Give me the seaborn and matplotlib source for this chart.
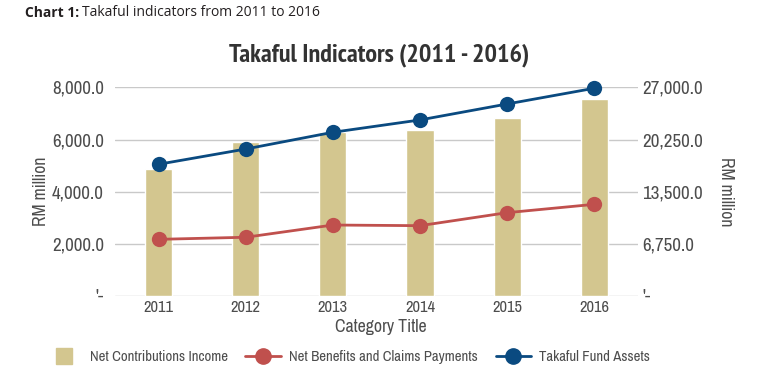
import matplotlib
matplotlib.use('Agg')
import matplotlib.pyplot as plt
from matplotlib import font_manager as fm
from matplotlib.lines import Line2D
from matplotlib.ticker import FuncFormatter, FixedLocator
import numpy as np
import seaborn as sns

# values (RM million)
years = ['2011', '2012', '2013', '2014', '2015', '2016']
net_contributions = [4870, 5915, 6290, 6365, 6815, 7555]
net_benefits = [2165, 2245, 2715, 2690, 3190, 3510]
fund_assets = [17040, 19020, 21190, 22790, 24860, 26900]

left_ticks = [0, 2000, 4000, 6000, 8000]
right_ticks = [0, 6750, 13500, 20250, 27000]

BAR = '#D3C68F'
RED = '#C0504D'
BLUE = '#0A4A80'
TXT = '#4d4d4d'
GRID = '#c9c9c9'

# pick the closest thing to a condensed grotesque that is installed
def stretch_num(st):
    if isinstance(st, int):
        return st
    return fm.stretch_dict.get(st, 500)

def weight_num(w):
    if isinstance(w, int):
        return w
    return fm.weight_dict.get(w, 400)

cands = []
for f in fm.fontManager.ttflist:
    n = stretch_num(f.stretch)
    if 'Narrow' in f.name or 'Condensed' in f.name or n < 500:
        pref = 0 if 'Narrow' in f.name else 1
        cands.append((pref, abs(n - 300), f.name, f.stretch, weight_num(f.weight),
                      f.style, f.fname))
cands.sort()

sns.set_theme(style='white')
title_font = dict(family=['Roboto', 'DejaVu Sans'], fontweight='bold')
if cands:
    plt.rcParams['font.family'] = [cands[0][2], 'DejaVu Sans']
    plt.rcParams['font.stretch'] = cands[0][3]
    bold = [c for c in cands if c[4] >= 600 and c[5] == 'normal']
    if bold:
        title_font = dict(fontproperties=fm.FontProperties(fname=bold[0][6]))
else:
    plt.rcParams['font.family'] = ['Roboto', 'DejaVu Sans']

fig = plt.figure(figsize=(7.6, 3.74), dpi=100)
renderer = fig.canvas.get_renderer()

def fit(text, px, **kw):
    # font size that gives the text the pixel width seen in the reference
    t = fig.text(0, 0, text, **kw)
    t.set_fontsize(10)
    w = t.get_window_extent(renderer).width
    t.remove()
    return 10 * px / w

HDR = ['Open Sans', 'DejaVu Sans']
k = 1.07
sz = dict(
    tick=fit('8,000.0', 48) * k,
    year=fit('2011', 28) * k,
    xlab=fit('Category Title', 86) * k,
    ylab=fit('RM million', 65) * k,
    leg=fit('Net Contributions Income', 139),
    title=fit('Takaful Indicators (2011 - 2016)', 302, **title_font),
    hdr=fit('Chart 1: Takaful indicators from 2011 to 2016', 292,
            family=HDR, stretch='normal'),
)

ax = fig.add_axes([0.1513, 0.2094, 0.688, 0.5567])

def fmt(v, pos):
    if v == 0:
        return "'-"
    return f'{v:,.1f}'

sns.barplot(x=years, y=net_contributions, ax=ax, color=BAR, width=0.31,
            saturation=1, zorder=2)
xpos = np.arange(len(years))
sns.lineplot(x=xpos, y=net_benefits, ax=ax, color=RED, lw=2, marker='o',
             markersize=11, markeredgewidth=0, zorder=3)
ax.set_xlim(-0.5, 5.5)
ax.set_ylim(0, 8000)
ax.yaxis.set_major_locator(FixedLocator(left_ticks))
ax.yaxis.set_major_formatter(FuncFormatter(fmt))
ax.grid(axis='y', color=GRID, lw=1, zorder=0)
ax.set_axisbelow(True)
for s in ax.spines.values():
    s.set_visible(False)
ax.tick_params(axis='both', length=0, colors=TXT)
ax.tick_params(axis='y', pad=8, labelsize=sz['tick'])
ax.tick_params(axis='x', pad=3, labelsize=sz['year'])
ax.set_ylabel('RM million', fontsize=sz['ylab'], color=TXT, va='center')
ax.yaxis.set_label_coords(-0.142, 0.5)
ax.set_xlabel('Category Title', fontsize=sz['xlab'], color=TXT, va='center')
ax.xaxis.set_label_coords(0.508, -0.15)

ax2 = ax.twinx()
sns.lineplot(x=xpos, y=fund_assets, ax=ax2, color=BLUE, lw=2, marker='o',
             markersize=11, markeredgewidth=0, zorder=4, clip_on=False)
ax2.set_ylim(0, 27000)
ax2.set_xlim(-0.5, 5.5)
ax2.yaxis.set_major_locator(FixedLocator(right_ticks))
ax2.yaxis.set_major_formatter(FuncFormatter(fmt))
for s in ax2.spines.values():
    s.set_visible(False)
ax2.tick_params(axis='y', length=0, labelsize=sz['tick'], colors=TXT, pad=3)
ax2.set_ylabel('RM million', fontsize=sz['ylab'], color=TXT, rotation=270,
               va='center')
ax2.yaxis.set_label_coords(1.1686, 0.5)
ax2.grid(False)

ttl = fig.text(0.4987, 1 - 55 / 374, 'Takaful Indicators (2011 - 2016)',
               ha='center', va='center', color='#333333', **title_font)
ttl.set_fontsize(sz['title'])

# header: bold prefix followed by plain text
h1 = fig.text(25 / 760, 1 - 13 / 374, 'Chart 1:', ha='left', va='center',
              fontsize=sz['hdr'], fontweight='bold', color='#231f20',
              family=HDR, stretch='normal')
bb = h1.get_window_extent(renderer)
fig.text((bb.x1 + 3) / 760, 1 - 13 / 374, 'Takaful indicators from 2011 to 2016',
         ha='left', va='center', fontsize=sz['hdr'], color='#231f20',
         family=HDR, stretch='normal')

handles = [
    Line2D([], [], ls='none', marker='s', markersize=11.5, color=BAR),
    Line2D([], [], color=RED, lw=2, marker='o', markersize=11),
    Line2D([], [], color=BLUE, lw=2, marker='o', markersize=11),
]
labels = ['Net Contributions Income', 'Net Benefits and Claims Payments',
          'Takaful Fund Assets']
leg = fig.legend(handles, labels, loc='center', bbox_to_anchor=(0.458, 0.0455),
                 ncol=3, frameon=False, fontsize=sz['leg'], handlelength=2.4,
                 handletextpad=0.55, columnspacing=1.2)
for t in leg.get_texts():
    t.set_color(TXT)

fig.savefig('out.png', dpi=100)
